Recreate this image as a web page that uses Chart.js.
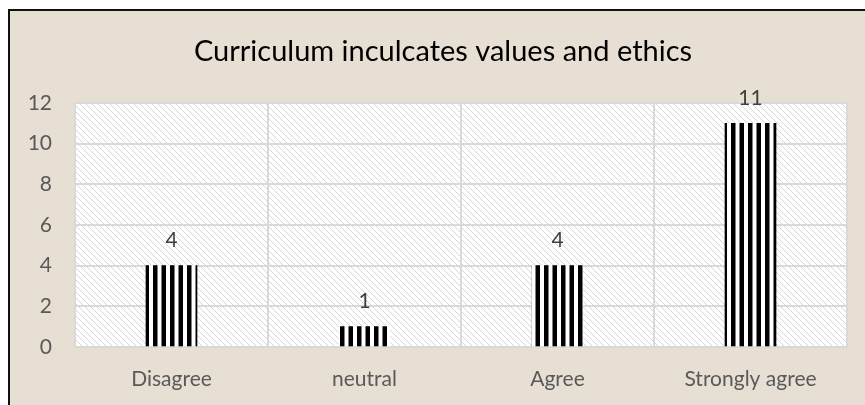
<!DOCTYPE html>
<html>
<head>
<meta charset="utf-8">
<script src="https://cdn.jsdelivr.net/npm/chart.js@4/dist/chart.umd.min.js"></script>
<style>
	html, body { margin: 0; padding: 0; background: #fff; }
	.frame {
		position: absolute;
		left: 8px;
		top: 9px;
		width: 857px;
		height: 396px;
		border-left: 2px solid #111;
		border-top: 2px solid #111;
		background: #e7dfd3;
	}
	canvas { position: absolute; left: 0; top: 0; }
</style>
</head>
<body>
<div class="frame"></div>
<canvas id="chart" width="865" height="405"></canvas>
<script>
const categories = ['Disagree', 'neutral', 'Agree', 'Strongly agree'];
const responses = [4, 1, 4, 11];
const yTicks = [0, 2, 4, 6, 8, 10, 12];
const chartTitle = 'Curriculum inculcates values and ethics';

const FONT = 'Lato, "Open Sans", sans-serif';

// vertical black/white stripes for the bars
function stripePattern() {
	const c = document.createElement('canvas');
	c.width = 17;
	c.height = 4;
	const g = c.getContext('2d');
	g.fillStyle = '#ffffff';
	g.fillRect(0, 0, 17, 4);
	g.fillStyle = '#000000';
	g.fillRect(0, 0, 4.5, 4);
	g.fillRect(8.5, 0, 4.5, 4);
	return g.createPattern(c, 'repeat');
}

// light diagonal hatch for the plot area
function hatchPattern() {
	const c = document.createElement('canvas');
	c.width = 6;
	c.height = 6;
	const g = c.getContext('2d');
	g.fillStyle = '#ffffff';
	g.fillRect(0, 0, 6, 6);
	g.strokeStyle = '#d6d6d6';
	g.lineWidth = 1;
	g.beginPath();
	g.moveTo(-1, -1);
	g.lineTo(7, 7);
	g.moveTo(-4, 2);
	g.lineTo(1, 7);
	g.moveTo(2, -4);
	g.lineTo(7, 1);
	g.stroke();
	return g.createPattern(c, 'repeat');
}

const plotBackground = {
	id: 'plotBackground',
	beforeDraw(chart) {
		const a = chart.chartArea;
		const ctx = chart.ctx;
		ctx.save();
		ctx.fillStyle = hatchPattern();
		ctx.fillRect(a.left, a.top, a.right - a.left, a.bottom - a.top);
		ctx.restore();
	}
};

// title is centred on the framed box, not on the canvas
const frameTitle = {
	id: 'frameTitle',
	afterDraw(chart) {
		const ctx = chart.ctx;
		ctx.save();
		ctx.font = '29px ' + FONT;
		ctx.fillStyle = '#000000';
		ctx.textAlign = 'center';
		ctx.textBaseline = 'middle';
		ctx.fillText(chartTitle, 443, 52);
		ctx.restore();
	}
};

const valueLabels = {
	id: 'valueLabels',
	afterDatasetsDraw(chart) {
		const ctx = chart.ctx;
		const meta = chart.getDatasetMeta(0);
		ctx.save();
		ctx.font = '21px ' + FONT;
		ctx.fillStyle = '#404040';
		ctx.textAlign = 'center';
		ctx.textBaseline = 'middle';
		meta.data.forEach((bar, i) => {
			ctx.fillText(String(responses[i]), bar.x, bar.y - 25);
		});
		ctx.restore();
	}
};

const ctx = document.getElementById('chart').getContext('2d');

new Chart(ctx, {
	type: 'bar',
	data: {
		labels: categories,
		datasets: [
			{
				data: responses,
				backgroundColor: stripePattern(),
				borderWidth: 0,
				barThickness: 51
			}
		]
	},
	options: {
		responsive: false,
		animation: false,
		layout: {
			padding: { left: 0, right: 18, top: 103, bottom: 0 }
		},
		plugins: {
			legend: { display: false },
			tooltip: { enabled: false },
			title: { display: false }
		},
		scales: {
			x: {
				grid: {
					color: '#d9d9d9',
					lineWidth: 2,
					drawTicks: false
				},
				border: { color: '#d9d9d9', width: 2 },
				ticks: {
					color: '#595959',
					font: { family: FONT, size: 21 },
					padding: 20
				},
				afterFit(scale) {
					scale.height = 58;
				}
			},
			y: {
				min: 0,
				max: 12,
				grid: {
					color: '#d9d9d9',
					lineWidth: 2,
					drawTicks: false
				},
				border: { color: '#d9d9d9', width: 2 },
				ticks: {
					stepSize: 2,
					color: '#595959',
					font: { family: FONT, size: 21 },
					padding: 23,
					callback: (v) => (yTicks.includes(v) ? v : '')
				},
				afterFit(scale) {
					scale.width = 75;
				}
			}
		}
	},
	plugins: [plotBackground, valueLabels, frameTitle]
});
</script>
</body>
</html>
